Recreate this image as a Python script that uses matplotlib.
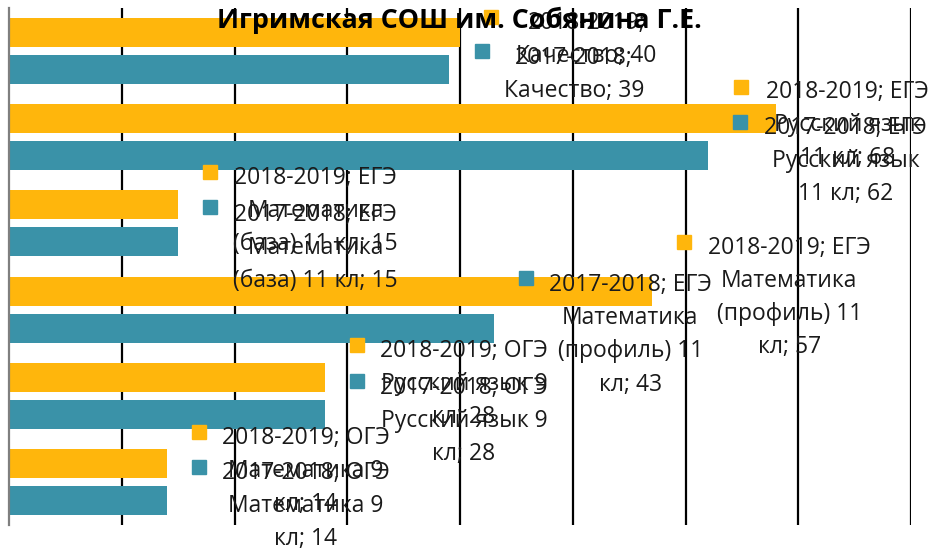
import matplotlib
matplotlib.use("Agg")
import matplotlib.pyplot as plt
from matplotlib import font_manager

# ---------------- data ----------------
categories = ["ОГЭ Математика 9 кл", "ОГЭ Русский язык 9 кл",
              "ЕГЭ Математика (профиль) 11 кл", "ЕГЭ Математика (база) 11 кл",
              "ЕГЭ Русский язык 11 кл", "Качество"]
label_categories = ["ОГЭ\nМатематика 9\nкл", "ОГЭ\nРусский язык 9\nкл",
                    "ЕГЭ\nМатематика\n(профиль) 11\nкл", "ЕГЭ\nМатематика\n(база) 11 кл",
                    "ЕГЭ\nРусский язык\n11 кл", "\nКачество"]
series_names = ["2018-2019", "2017-2018"]
values_2018_2019 = [14, 28, 57, 15, 68, 40]
values_2017_2018 = [14, 28, 43, 15, 62, 39]
x_ticks = [0, 10, 20, 30, 40, 50, 60, 70, 80]
title = "Игримская СОШ им. Собянина Г.Е."

# label placement (text centre x, first-line y, key x, key y) in data units
label_pos_2018_2019 = [(26.3, 0.545, 16.85, 0.579), (40.35, 1.554, 30.86, 1.589),
                       (69.2, 2.750, 59.87, 2.784), (27.2, 3.562, 17.83, 3.597),
                       (74.4, 4.560, 64.92, 4.583), (51.2, 5.361, 42.75, 5.396)]
label_pos_2017_2018 = [(26.3, 0.139, 16.85, 0.173), (40.35, 1.125, 30.86, 1.171),
                       (55.1, 2.320, 45.85, 2.367), (27.2, 3.133, 17.83, 3.191),
                       (74.2, 4.142, 64.83, 4.177), (50.1, 4.955, 41.95, 5.001)]

colors = ["#FFB60C", "#3A92A8"]

avail = {f.name for f in font_manager.fontManager.ttflist}
body_font = "Open Sans" if "Open Sans" in avail else "DejaVu Sans"

fig = plt.figure(figsize=(9.31, 5.49), dpi=100)
ax = fig.add_axes([9 / 931, 1 - 525 / 549, 902 / 931, 517 / 549])

ys = list(range(len(categories)))
h = 0.336
off = 0.215
ax.barh([y + off for y in ys], values_2018_2019, height=h, color=colors[0], zorder=3)
ax.barh([y - off for y in ys], values_2017_2018, height=h, color=colors[1], zorder=3)

ax.set_xlim(x_ticks[0], x_ticks[-1])
ax.set_ylim(-0.5, len(categories) - 0.5)
for xt in x_ticks[1:]:
    ax.axvline(xt, color="black", lw=1.6, zorder=1)
ax.set_xticks([])
ax.set_yticks([])
for s in ["top", "right", "bottom"]:
    ax.spines[s].set_visible(False)
ax.spines["left"].set_color("#7f7f7f")
ax.spines["left"].set_linewidth(1.6)
ax.spines["left"].set_zorder(4)

pitch = 0.385
fs = 16.5
dy = 0.035
for sname, vals, poss, col in [(series_names[0], values_2018_2019, label_pos_2018_2019, colors[0]),
                               (series_names[1], values_2017_2018, label_pos_2017_2018, colors[1])]:
    for cat, v, (tx, ty, kx, ky) in zip(label_categories, vals, poss):
        sep = "" if cat.startswith("\n") else " "
        txt = f"{sname};{sep}{cat}; {v}"
        ax.plot([kx], [ky], marker="s", ms=9.5, color=col, ls="none", zorder=5, clip_on=False)
        for i, line in enumerate(txt.split("\n")):
            ax.text(tx, ty - dy - i * pitch, line, ha="center", va="center", fontsize=fs,
                    family=body_font, color="#1a1a1a", zorder=6, clip_on=False)

fig.text(459 / 931, 1 - 20 / 549, title, ha="center", va="center", fontsize=19.4,
         fontweight="bold", family=body_font, color="black", zorder=10)

fig.savefig("out.png", dpi=100)
